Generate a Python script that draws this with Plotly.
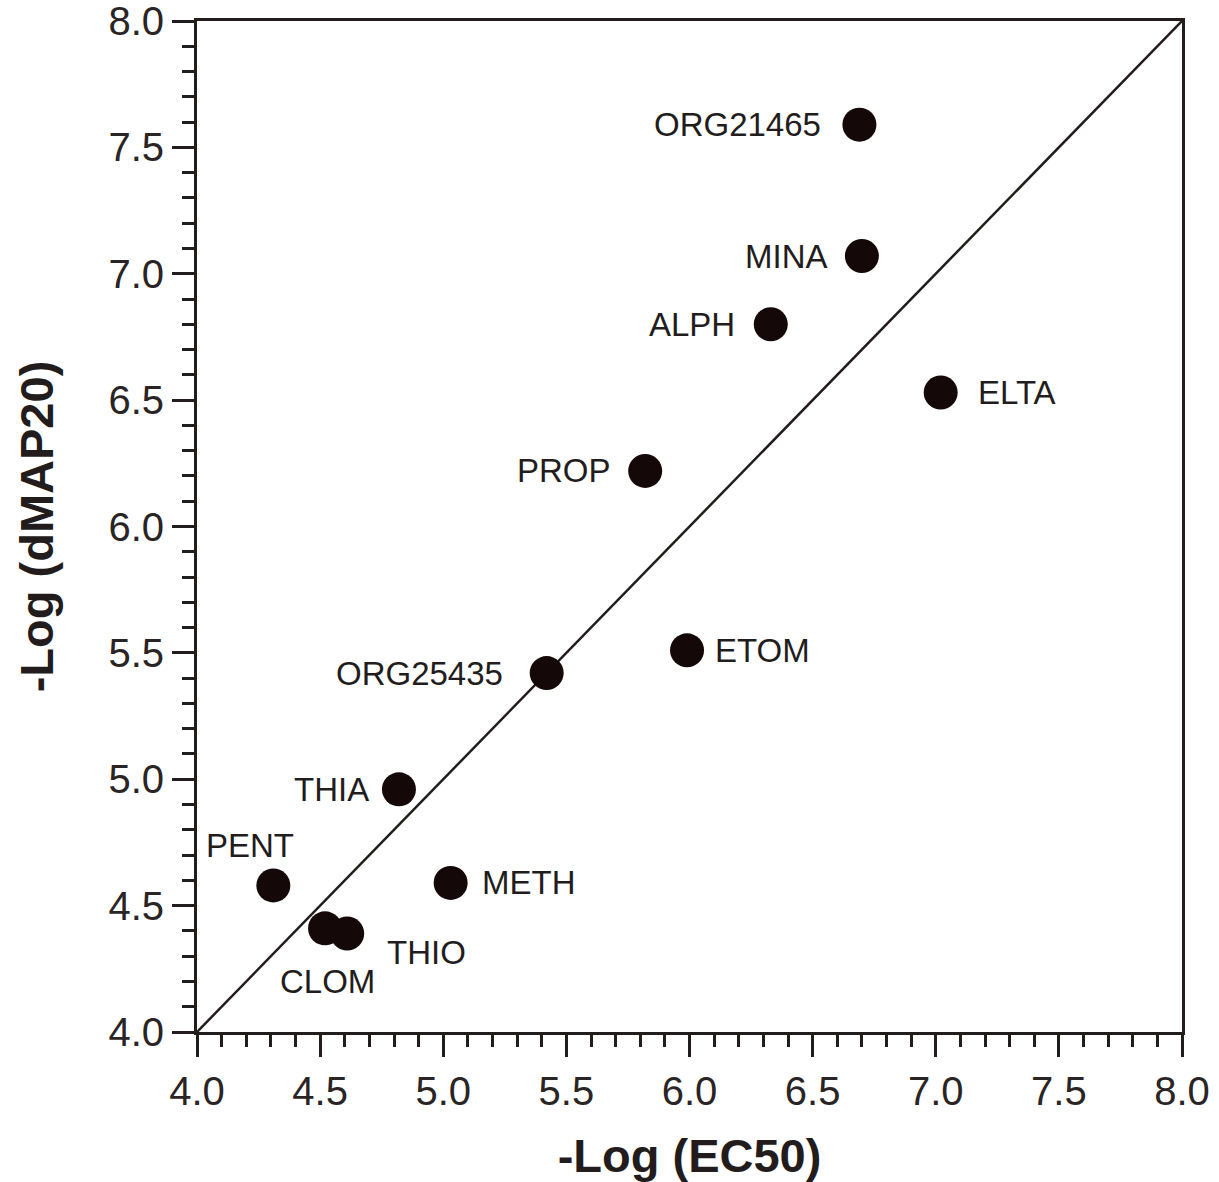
import plotly.graph_objects as go

# Data
compounds = ["ORG21465", "MINA", "ALPH", "ELTA", "PROP", "ORG25435", "ETOM",
             "THIA", "METH", "PENT", "CLOM", "THIO"]
neg_log_ec50 = [6.69, 6.70, 6.33, 7.02, 5.82, 5.42, 5.99, 4.82, 5.03, 4.31, 4.52, 4.61]
neg_log_dmap20 = [7.59, 7.07, 6.80, 6.53, 6.22, 5.42, 5.51, 4.96, 4.59, 4.58, 4.41, 4.39]
identity_line = [4.0, 8.0]
tick_vals = [4.0, 4.5, 5.0, 5.5, 6.0, 6.5, 7.0, 7.5, 8.0]
tick_text = ["4.0", "4.5", "5.0", "5.5", "6.0", "6.5", "7.0", "7.5", "8.0"]

# label placement (style): xanchor, xshift, yshift
label_style = {
    "ORG21465": ("right", -36, 0),
    "MINA": ("right", -32, 0),
    "ALPH": ("right", -34, 0),
    "ELTA": ("left", 35, 0),
    "PROP": ("right", -32, 0),
    "ORG25435": ("right", -42, 0),
    "ETOM": ("left", 26, 0),
    "THIA": ("right", -28, 0),
    "METH": ("left", 29, 0),
    "PENT": ("center", -23, 40),
    "CLOM": ("center", 2, -53),
    "THIO": ("left", 38, -19),
}

FONT = "Liberation Sans, Arial, sans-serif"
INK = "#231c1c"

fig = go.Figure()
fig.add_trace(go.Scatter(
    x=identity_line, y=identity_line, mode="lines",
    line=dict(color=INK, width=2.5), hoverinfo="skip", showlegend=False,
))
fig.add_trace(go.Scatter(
    x=neg_log_ec50, y=neg_log_dmap20, mode="markers",
    marker=dict(size=34, color="#140808", line=dict(width=0)),
    text=compounds, showlegend=False,
))

for name, xv, yv in zip(compounds, neg_log_ec50, neg_log_dmap20):
    xa, xs, ys = label_style[name]
    fig.add_annotation(
        x=xv, y=yv, text=name, showarrow=False,
        xanchor=xa, yanchor="middle", xshift=xs, yshift=ys,
        font=dict(family=FONT, size=33, color=INK),
    )

axis_common = dict(
    range=[4.0, 8.0],
    tickmode="array", tickvals=tick_vals, ticktext=tick_text,
    ticks="outside", ticklen=22, tickwidth=3, tickcolor=INK,
    minor=dict(dtick=0.1, tick0=4.0, ticks="outside", ticklen=12,
               tickwidth=3, tickcolor=INK, showgrid=False),
    showline=True, linewidth=3, linecolor=INK, mirror=True,
    showgrid=False, zeroline=False,
    ticklabeloverflow="allow",
    tickfont=dict(family=FONT, size=40, color="#2a2424"),
)

fig.update_xaxes(
    **axis_common,
    title=dict(text="<b>-Log (EC50)</b>", standoff=28,
               font=dict(family=FONT, size=47, color=INK)),
)
fig.update_yaxes(
    **axis_common,
    title=dict(text="<b>-Log (dMAP20)</b>", standoff=40,
               font=dict(family=FONT, size=47, color=INK)),
)

fig.update_layout(
    width=1219, height=1182,
    margin=dict(l=197, r=37, t=21, b=150, autoexpand=False),
    paper_bgcolor="white", plot_bgcolor="white",
    showlegend=False,
)

fig.write_html(
    "out.html",
    config={"displayModeBar": False},
    post_script="document.body.style.margin='0';document.body.style.overflow='hidden';",
)
